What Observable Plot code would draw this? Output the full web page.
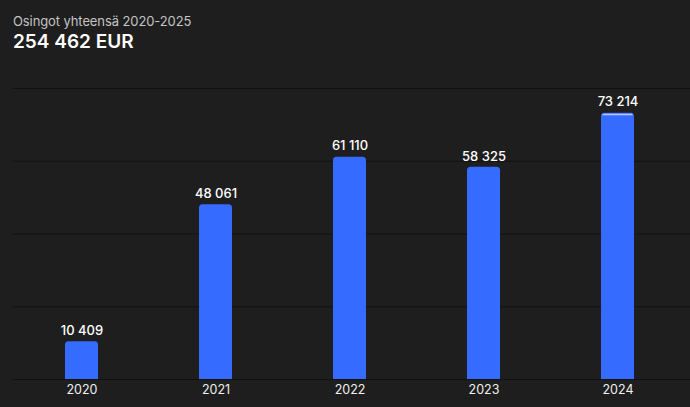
<!DOCTYPE html>
<html>
<head>
<meta charset="utf-8">
<script src="https://cdn.jsdelivr.net/npm/d3@7"></script>
<script src="https://cdn.jsdelivr.net/npm/@observablehq/plot@0.6"></script>
<style>
  html, body { margin: 0; padding: 0; background: #1e1e1e; }
  body { width: 690px; height: 407px; overflow: hidden; font-family: Inter, "Noto Sans", sans-serif; }
  #head { height: 60px; box-sizing: border-box; padding: 13px 0 0 13px; }
  #sub { color: #c4c4c4; font-size: 13px; line-height: 16px; letter-spacing: -0.1px; }
  #total { color: #ffffff; font-size: 19px; font-weight: 600; line-height: 24px; margin-top: 1px; }
  #chart svg { display: block; }
</style>
</head>
<body>
<div id="head">
  <div id="sub">Osingot yhteensä 2020-2025</div>
  <div id="total">254 462 EUR</div>
</div>
<div id="chart"></div>
<script>
const years = ["2020", "2021", "2022", "2023", "2024"];
const dividends = [10409, 48061, 61110, 58325, 73214];
const gridTicks = [0, 20000, 40000, 60000, 80000];
const highlighted = ["2024"];

const data = years.map((y, i) => ({year: y, value: dividends[i]}));
const fmt = v => d3.format(",")(v).replace(/,/g, " ");

const chart = Plot.plot({
  width: 690,
  height: 347,
  marginTop: 28,
  marginBottom: 28,
  marginLeft: 13,
  marginRight: 0,
  style: {background: "transparent", fontFamily: "Inter, 'Noto Sans', sans-serif"},
  x: {domain: years, range: [63.5, 635], paddingInner: 0.755, paddingOuter: 0, axis: null},
  y: {domain: [0, 80000], axis: null},
  marks: [
    Plot.ruleY(gridTicks, {stroke: "#121212", strokeWidth: 1.2}),
    Plot.barY(data, {x: "year", y: "value", fill: "#356bff", ry1: 3.5}),
    Plot.tickY(data.filter(d => highlighted.includes(d.year)), {x: "year", y: "value", stroke: "#b4c6ff", strokeWidth: 1.6, dy: 1.3, inset: 1.5}),
    Plot.text(data, {x: "year", y: "value", text: d => fmt(d.value), dy: -11, fill: "#ffffff", fontSize: 13, fontWeight: 450}),
    Plot.text(data, {x: "year", y: 0, text: "year", dy: 10.5, fill: "#f0f0f0", fontSize: 12.5, fontWeight: 400})
  ]
});
document.getElementById("chart").appendChild(chart);
</script>
</body>
</html>
